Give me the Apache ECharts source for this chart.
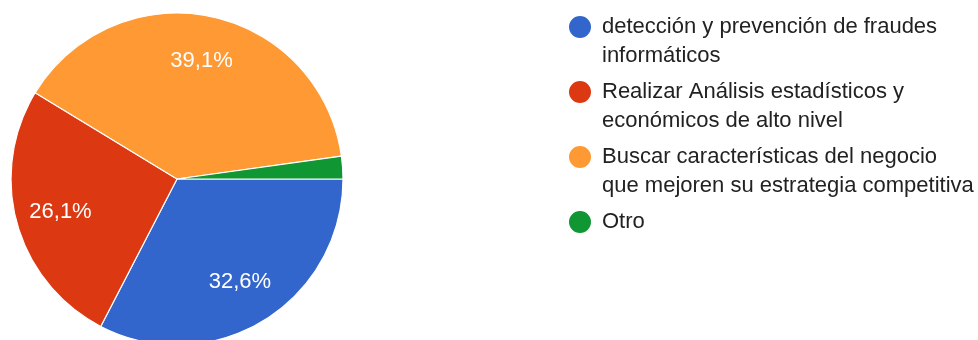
<!DOCTYPE html>
<html>
<head>
<meta charset="utf-8">
<script src="https://cdn.jsdelivr.net/npm/echarts@6/dist/echarts.min.js"></script>
<style>
  html, body { margin: 0; padding: 0; background: #fff; }
  #chart { width: 978px; height: 340px; }
</style>
</head>
<body>
<div id="chart"></div>
<script>
// Survey answers (share of responses, %)
const categories = [
  'detección y prevención de fraudes\ninformáticos',
  'Realizar Análisis estadísticos y\neconómicos de alto nivel',
  'Buscar características del negocio\nque mejoren su estrategia competitiva',
  'Otro'
];
const values = [32.6, 26.1, 39.1, 2.2];
const colors = ['#3366cc', '#dc3912', '#ff9933', '#109633'];

const FONT = '"Liberation Sans", Arial, sans-serif';
const R = 166;
const CENTER = [177, 179];

const sliceData = categories.map((name, i) => ({
  name: name,
  value: values[i],
  itemStyle: { color: colors[i] }
}));

// Labels drawn on a transparent ring so they sit at ~0.71 of the radius
const labelData = categories.map((name, i) => ({
  name: name,
  value: values[i],
  label: { show: values[i] >= 5 }
}));

// Legend text: an empty leading line keeps the first text line level with
// the icon; single-line entries get an empty line on both sides so every
// entry has the same height.
function legendText(name) {
  return name.indexOf('\n') >= 0 ? '\n' + name : '\n' + name + '\n';
}

const chart = echarts.init(document.getElementById('chart'), null, { renderer: 'canvas' });
chart.setOption({
  animation: false,
  backgroundColor: '#ffffff',
  legend: {
    orient: 'vertical',
    left: 567,
    top: -16.5,
    padding: 0,
    itemWidth: 34,
    itemHeight: 24,
    itemGap: -22,
    icon: 'circle',
    selectedMode: false,
    data: categories,
    formatter: legendText,
    textStyle: {
      fontFamily: FONT,
      fontSize: 22,
      lineHeight: 29,
      color: '#222222'
    }
  },
  series: [
    {
      type: 'pie',
      center: CENTER,
      radius: [0, R],
      startAngle: 0,
      clockwise: true,
      silent: true,
      label: { show: false },
      labelLine: { show: false },
      itemStyle: { borderColor: '#ffffff', borderWidth: 1.2 },
      emphasis: { disabled: true },
      data: sliceData
    },
    {
      type: 'pie',
      center: CENTER,
      radius: [70, R],
      startAngle: 0,
      clockwise: true,
      silent: true,
      itemStyle: { color: 'rgba(0,0,0,0)', borderWidth: 0 },
      emphasis: { disabled: true },
      labelLine: { show: false },
      label: {
        position: 'inside',
        color: '#ffffff',
        fontFamily: FONT,
        fontSize: 22,
        formatter: (p) => p.value.toFixed(1).replace('.', ',') + '%'
      },
      data: labelData
    }
  ]
});
</script>
</body>
</html>
